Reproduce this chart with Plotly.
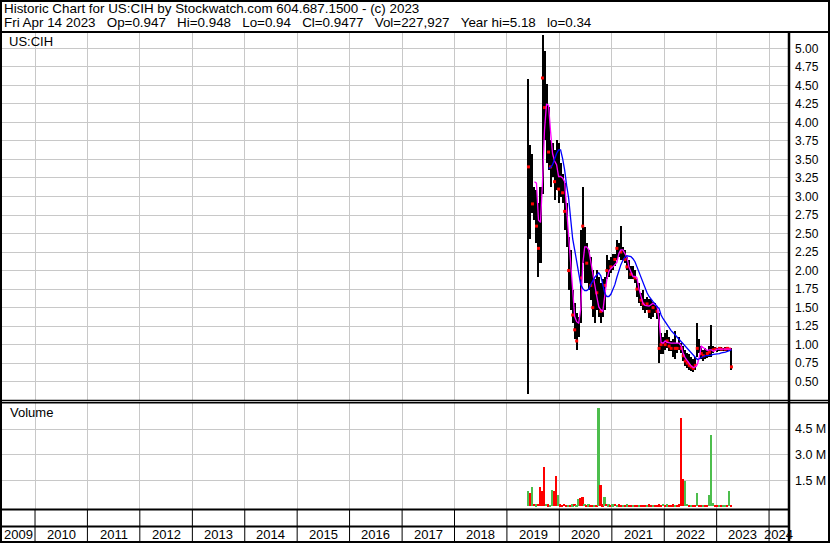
import pandas as pd
import plotly.graph_objects as go

W, H = 830, 543

# ---------------- data ----------------
# bi-weekly bars, first one 2019-05-31, last one 2023-04-14
bar_dates = pd.date_range("2019-05-31", periods=102, freq="14D")

high = [4.58, 3.69, 3.58, 3.13, 3.09, 2.91, 3.13, 5.18, 4.97, 4.52,
        4.21, 3.76, 3.72, 3.63, 3.76, 3.72, 3.45, 3.31, 3.18, 2.91,
        2.46, 2.28, 1.74, 1.56, 1.43, 1.38, 2.55, 3.13, 2.59, 2.37,
        2.28, 2.19, 2.01, 1.88, 2.01, 1.92, 1.83, 1.88, 1.92, 2.21,
        2.14, 2.19, 2.23, 2.23, 2.41, 2.37, 2.60, 2.32, 2.28, 2.19,
        2.14, 2.06, 2.06, 2.01, 1.88, 1.83, 1.70, 1.74, 1.61, 1.65,
        1.61, 1.61, 1.58, 1.56, 1.52, 1.43, 1.16, 1.11, 1.16, 1.20,
        1.11, 1.05, 1.07, 1.18, 1.02, 1.11, 1.02, 0.98, 0.93, 0.89,
        0.87, 0.84, 0.80, 0.84, 1.29, 1.07, 0.98, 0.93, 0.96, 0.93,
        0.98, 1.27, 0.98, 0.97, 0.96, 0.97, 0.97, 0.96, 0.97, 0.97,
        0.96, 0.95]

low = [0.34, 2.43, 2.78, 2.68, 2.37, 1.92, 2.10, 3.03, 3.76, 3.45,
       3.36, 3.13, 3.27, 2.95, 3.09, 2.91, 3.00, 2.91, 2.55, 2.32,
       1.74, 1.47, 1.29, 1.07, 0.93, 1.11, 1.29, 2.10, 1.83, 1.83,
       1.74, 1.60, 1.38, 1.29, 1.47, 1.38, 1.29, 1.38, 1.47, 1.88,
       1.92, 1.97, 2.01, 2.06, 2.14, 2.19, 2.14, 2.14, 2.10, 2.01,
       1.88, 1.88, 1.88, 1.83, 1.65, 1.56, 1.52, 1.47, 1.43, 1.47,
       1.36, 1.34, 1.38, 1.43, 1.34, 0.75, 0.87, 0.87, 0.93, 0.96,
       0.91, 0.91, 0.84, 0.80, 0.89, 0.93, 0.89, 0.78, 0.71, 0.69,
       0.66, 0.64, 0.63, 0.66, 0.84, 0.89, 0.80, 0.78, 0.80, 0.82,
       0.84, 0.84, 0.89, 0.91, 0.90, 0.92, 0.91, 0.91, 0.92, 0.91,
       0.92, 0.66]

# red close ticks (None where the bar shows no red tick)
close_tick = [3.40, None, 2.90, None, 2.60, 2.30, None, 4.60, 4.20, None,
              3.60, 3.40, None, 3.20, None, 3.10, None, 3.05, 2.80, None,
              2.00, None, 1.40, 1.20, 1.05, None, 1.90, 2.60, None, 2.10,
              None, 1.80, 1.50, None, 1.70, None, 1.45, None, 1.80, 2.00,
              None, 2.05, None, 2.15, 2.30, None, 2.25, None, 2.15, 2.05,
              None, 1.95, None, 1.90, 1.75, None, 1.60, 1.55, None, 1.55,
              1.45, None, 1.50, None, 1.45, 0.95, 1.00, None, 1.00, 1.05,
              0.98, 0.95, None, 0.95, 0.95, None, 0.95, 0.85, 0.78, 0.75,
              0.72, 0.70, 0.68, 0.72, 0.95, None, 0.88, 0.85, None, 0.88,
              0.90, None, 0.93, 0.94, None, 0.95, 0.94, None, 0.94, 0.95,
              0.94, 0.70]

ma_short = [None, None, None, 3.20, 3.18, 2.68, 2.65, 3.20, 3.90, 4.25,
            4.23, 3.88, 3.58, 3.48, 3.43, 3.27, 3.27, 3.25, 3.20, 2.83,
            2.46, 2.13, 1.75, 1.38, 1.31, 1.29, 1.48, 2.08, 2.32, 2.32,
            2.28, 2.11, 1.98, 1.78, 1.65, 1.51, 1.47, 1.45, 1.65, 1.88,
            1.99, 2.03, 2.05, 2.08, 2.11, 2.23, 2.28, 2.28, 2.23, 2.18,
            2.05, 1.97, 1.92, 1.92, 1.90, 1.75, 1.65, 1.56, 1.53, 1.52,
            1.52, 1.54, 1.56, 1.54, 1.52, 1.33, 1.03, 1.02, 1.05, 1.03,
            1.02, 1.02, 1.02, 1.02, 1.02, 1.02, 0.98, 0.88, 0.82, 0.78,
            0.74, 0.71, 0.69, 0.70, 0.73, 0.83, 0.98, 0.96, 0.93, 0.92,
            0.93, 0.93, 0.91, 0.93, 0.94, 0.94, 0.94, 0.94, 0.94, 0.94,
            0.94, 0.94]

ma_long = [None, None, None, None, None, None, None, None, None, None,
           3.38, 3.39, 3.43, 3.51, 3.58, 3.63, 3.63, 3.51, 3.36, 3.15,
           2.98, 2.70, 2.43, 2.28, 2.13, 1.95, 1.81, 1.76, 1.73, 1.73,
           1.75, 1.81, 1.87, 1.91, 1.94, 1.97, 1.93, 1.81, 1.69, 1.65,
           1.65, 1.68, 1.74, 1.81, 1.91, 2.00, 2.08, 2.14, 2.18, 2.20,
           2.20, 2.19, 2.16, 2.12, 2.05, 1.98, 1.90, 1.83, 1.76, 1.70,
           1.65, 1.61, 1.58, 1.55, 1.51, 1.49, 1.40, 1.35, 1.31, 1.26,
           1.22, 1.19, 1.16, 1.13, 1.10, 1.08, 1.05, 1.01, 0.98, 0.95,
           0.92, 0.89, 0.86, 0.83, 0.80, 0.81, 0.83, 0.84, 0.85, 0.85,
           0.86, 0.86, 0.87, 0.87, 0.88, 0.88, 0.89, 0.89, 0.90, 0.91,
           0.92, 0.93]

# volume in millions of shares, with up (g) / down (r) flag
volume = [0.90, 0.75, 1.10, 0.12, 0.10, 0.12, 1.10, 0.90, 2.28, 0.15,
          0.10, 0.08, 0.92, 0.90, 1.75, 0.65, 0.10, 0.08, 0.15, 0.06,
          0.08, 0.07, 0.10, 0.12, 0.08, 0.40, 0.47, 0.55, 0.12, 0.08,
          0.10, 0.06, 0.07, 0.05, 0.08, 5.71, 1.23, 0.10, 0.52, 0.12,
          0.10, 0.08, 0.10, 0.12, 0.06, 0.10, 0.08, 0.06, 0.08, 0.10,
          0.07, 0.05, 0.08, 0.06, 0.07, 0.05, 0.08, 0.06, 0.09, 0.05,
          0.10, 0.08, 0.07, 0.06, 0.08, 0.10, 0.07, 0.12, 0.08, 0.10,
          0.07, 0.06, 0.10, 0.08, 0.06, 0.10, 5.17, 1.57, 1.45, 0.15,
          0.06, 0.05, 0.06, 0.05, 0.77, 0.05, 0.06, 0.05, 0.06, 0.05,
          0.65, 4.17, 0.20, 0.08, 0.06, 0.05, 0.07, 0.08, 0.06, 0.05,
          0.90, 0.05]
vol_dir = ["g", "r", "g", "r", "g", "r", "r", "r", "r", "g",
           "r", "g", "g", "r", "r", "g", "r", "r", "r", "r",
           "g", "r", "g", "r", "g", "g", "r", "r", "g", "r",
           "g", "r", "r", "g", "r", "g", "r", "r", "g", "r",
           "g", "r", "g", "r", "g", "r", "r", "g", "r", "g",
           "r", "r", "g", "r", "r", "g", "r", "r", "r", "g",
           "r", "r", "g", "r", "r", "r", "r", "g", "r", "g",
           "r", "r", "r", "g", "r", "r", "r", "r", "g", "g",
           "r", "g", "r", "r", "g", "r", "r", "g", "r", "r",
           "g", "g", "g", "r", "r", "g", "r", "g", "g", "r",
           "g", "r"]

years = list(range(2009, 2025))
price_ticks = [0.50, 0.75, 1.00, 1.25, 1.50, 1.75, 2.00, 2.25, 2.50, 2.75,
               3.00, 3.25, 3.50, 3.75, 4.00, 4.25, 4.50, 4.75, 5.00]
vol_ticks = [1.5, 3.0, 4.5]
vol_tick_text = ["1.5 M", "3.0 M", "4.5 M"]

header1 = "Historic Chart for US:CIH by Stockwatch.com 604.687.1500 - (c) 2023"
header2_fields = ["Fri Apr 14 2023", "Op=0.947", "Hi=0.948", "Lo=0.94",
                  "Cl=0.9477", "Vol=227,927", "Year hi=5.18", "lo=0.34"]
symbol = "US:CIH"

# ---------------- style ----------------
FONT = "Liberation Sans, Arial, sans-serif"
GRID = "#C8C8C8"
UP = "#4DBE4D"
DOWN = "#FF0000"
X_START = pd.Timestamp("2009-05-16")
X_END = pd.Timestamp("2024-05-12")
DAY_MS = 86400000
HDR_SIZE = 13.4
SEP = "\u00a0\u00a0\u00a0"


def px_x(p):
    return p / W


def px_y(p):
    return 1 - p / H


fig = go.Figure()

fig.add_trace(go.Bar(
    x=bar_dates, y=[h - l for h, l in zip(high, low)], base=low,
    width=14 * DAY_MS, marker=dict(color="black", line=dict(width=0)),
    xaxis="x", yaxis="y", hoverinfo="skip"))
fig.add_trace(go.Scatter(
    x=bar_dates, y=close_tick, mode="markers",
    marker=dict(color="#FF0000", size=3, symbol="square", line=dict(width=0)),
    xaxis="x", yaxis="y"))
fig.add_trace(go.Scatter(
    x=bar_dates, y=ma_short, mode="lines",
    line=dict(color="#FF00FF", width=1.3), xaxis="x", yaxis="y"))
fig.add_trace(go.Scatter(
    x=bar_dates, y=ma_long, mode="lines",
    line=dict(color="#0000FF", width=1.3), xaxis="x", yaxis="y"))
fig.add_trace(go.Bar(
    x=bar_dates, y=volume, width=12 * DAY_MS,
    marker=dict(color=[UP if d == "g" else DOWN for d in vol_dir], line=dict(width=0)),
    xaxis="x2", yaxis="y2"))

xcommon = dict(domain=[px_x(2), px_x(788)], range=[X_START, X_END], type="date",
               showgrid=True, gridcolor=GRID, gridwidth=1, dtick="M12",
               tick0="2009-01-01", showticklabels=False, ticks="",
               zeroline=False, showline=False)

fig.update_layout(
    width=W, height=H, margin=dict(l=0, r=0, t=0, b=0),
    paper_bgcolor="white", plot_bgcolor="white", showlegend=False,
    barmode="overlay", bargap=0,
    font=dict(family=FONT, color="black", size=11),
    xaxis=dict(anchor="y", **xcommon),
    xaxis2=dict(anchor="y2", matches="x", **xcommon),
    yaxis=dict(anchor="x", domain=[px_y(400), px_y(33)], range=[0.253, 5.207],
               side="right", tickvals=price_ticks, tickformat=".2f",
               showgrid=True, gridcolor=GRID, ticks="", zeroline=False,
               showline=False, ticklabelstandoff=6, tickfont=dict(size=12)),
    yaxis2=dict(anchor="x2", domain=[px_y(509), px_y(403)], range=[-0.17, 6.02],
                side="right", tickvals=vol_ticks, ticktext=vol_tick_text,
                showgrid=True, gridcolor=GRID, ticks="", zeroline=False,
                showline=False, ticklabelstandoff=6, tickfont=dict(size=12.5)),
)

shapes = []


def hline(py, x0=0, x1=W, w=2):
    shapes.append(dict(type="line", xref="paper", yref="paper",
                       x0=px_x(x0), x1=px_x(x1), y0=px_y(py), y1=px_y(py),
                       line=dict(color="black", width=w)))


def vline(px, y0, y1, w=2):
    shapes.append(dict(type="line", xref="paper", yref="paper",
                       x0=px_x(px), x1=px_x(px), y0=px_y(y0), y1=px_y(y1),
                       line=dict(color="black", width=w)))


# outer frame and panel separators
shapes.append(dict(type="rect", xref="paper", yref="paper",
                   x0=px_x(1), x1=px_x(829), y0=px_y(1), y1=px_y(542),
                   line=dict(color="black", width=2)))
hline(32, 0, W, 2)
hline(400.5, 0, W, 1.5)
hline(402.8, 0, W, 1.5)
hline(509.5, 0, 789, 2)
hline(526.5, 0, 789, 2)
vline(789, 32, 543, 2.5)

# year separators in the bottom bands
for yr in years[1:]:
    shapes.append(dict(type="line", xref="x", yref="paper",
                       x0=pd.Timestamp(f"{yr}-01-01"), x1=pd.Timestamp(f"{yr}-01-01"),
                       y0=px_y(510), y1=px_y(541),
                       line=dict(color="black", width=1)))

fig.update_layout(shapes=shapes)

annotations = [
    dict(text=header1, x=px_x(2), y=px_y(8.5), xref="paper", yref="paper",
         xanchor="left", yanchor="middle", showarrow=False,
         font=dict(size=HDR_SIZE, family=FONT, color="black")),
    dict(text=SEP.join(header2_fields), x=px_x(2), y=px_y(22.5), xref="paper", yref="paper",
         xanchor="left", yanchor="middle", showarrow=False,
         font=dict(size=HDR_SIZE, family=FONT, color="black")),
    dict(text=symbol, x=px_x(7), y=px_y(41), xref="paper", yref="paper",
         xanchor="left", yanchor="middle", showarrow=False,
         font=dict(size=13, family=FONT, color="black")),
    dict(text="Volume", x=px_x(8), y=px_y(413), xref="paper", yref="paper",
         xanchor="left", yanchor="middle", showarrow=False,
         font=dict(size=13, family=FONT, color="black")),
]

for yr in years:
    s = max(pd.Timestamp(f"{yr}-01-01"), X_START)
    e = min(pd.Timestamp(f"{yr + 1}-01-01"), X_END)
    mid = s + (e - s) / 2
    annotations.append(dict(text=str(yr), x=mid, y=px_y(534.5), xref="x", yref="paper",
                            xanchor="center", yanchor="middle", showarrow=False,
                            font=dict(size=13, family=FONT, color="black")))

fig.update_layout(annotations=annotations)

fig.write_html(
    "out.html",
    config={"displayModeBar": False},
    post_script="document.documentElement.style.margin='0';"
                "document.body.style.margin='0';"
                "document.body.style.overflow='hidden';")
